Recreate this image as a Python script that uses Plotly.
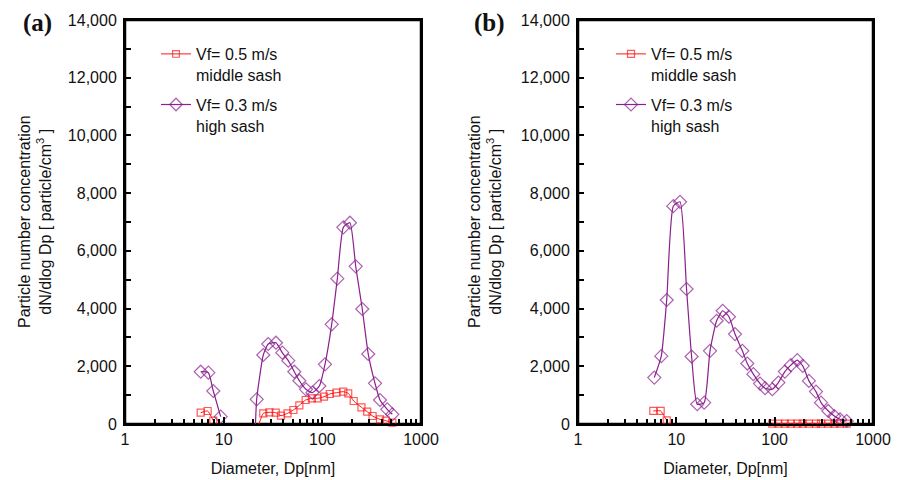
import plotly.graph_objects as go

# ---------------- data ----------------
# Panel (a)
a_red_x = [5.85, 6.88, 7.85, 15, 22.8, 25.2, 29.0, 33.7, 38.1, 44.4, 50.9, 58.5, 67.8, 78.3, 89.6,
           104, 119, 139, 163, 183, 208, 249, 285, 323, 384, 440, 512]
a_red_y = [392, 450, 115, None, 0, 370, 404, 392, 288, 370, 485, 647, 832, 890, 890,
           946, 1040, 1085, 1120, 1063, 797, 578, 427, 277, 162, 115, 45]

a_pur_x = [5.85, 7.0, 7.85, 9.33, 15, 21.0, 21.6, 25.2, 28.3, 33.9, 39.3, 45.2, 52.0, 58.5, 68.3, 79.2,
           93.3, 106.4, 124.4, 141.9, 163.3, 190.5, 217.9, 254, 292, 342, 384, 455, 512]
a_pur_y = [1812, 1778, 1143, 253, None, 0, 855, 2391, 2772, 2817, 2471, 2194, 1812, 1500, 1202, 1085,
           1317, 2068, 3454, 5035, 6815, 6975, 5464, 3985, 2425, 1410, 832, 509, 336]

# Panel (b)
b_red_x = [5.83, 6.93, 7.98, 40, 94.7, 109, 127, 146, 170, 193, 223, 263, 296, 351, 404, 462, 540]
b_red_y = [452, 452, 128, None, 10, 10, 10, 10, 10, 10, 10, 10, 10, 10, 10, 10, 10]

b_pur_x = [5.97, 7.03, 7.98, 9.31, 10.9, 12.7, 14.3, 16.3, 19.2, 22.0, 25.7, 29.6, 34.3, 39.5, 46.9,
           52.7, 60.7, 71.0, 79.8, 94.7, 109, 127, 146, 170, 193, 223, 263, 296, 351, 404, 462, 540]
b_pur_y = [1609, 2351, 4297, 7548, 7700, 4679, 2338, 684, 740, 2536, 3578, 3925, 3717, 3116, 2536,
           2095, 1726, 1400, 1240, 1205, 1435, 1817, 2039, 2213, 2015, 1494, 1122, 740, 452, 278, 163, 104]

series_names = ["Vf= 0.5 m/s<br>middle sash", "Vf= 0.3 m/s<br>high sash"]
panel_labels = ["(a)", "(b)"]
x_range = [1, 1000]
y_range = [0, 14000]
x_ticks = [1, 10, 100, 1000]
y_ticks = list(range(0, 14001, 2000))
x_title = "Diameter, Dp[nm]"
y_title = "Particle number concentration<br>dN/dlog Dp [ particle/cm<sup>3</sup> ]"

# ---------------- styling ----------------
RED = "#ff1414"
PURPLE = "#8a1f8e"
FONT = "Liberation Sans, Arial, sans-serif"
W, H = 904, 480


def marker_sizes(ys, size):
    # lead-in points (zero right after a gap) are drawn without a marker
    out = []
    for i, v in enumerate(ys):
        if v == 0 and (i == 0 or ys[i - 1] is None):
            out.append(0)
        else:
            out.append(size)
    return out


fig = go.Figure()

panels = [
    (a_red_x, a_red_y, a_pur_x, a_pur_y, "x", "y", "legend"),
    (b_red_x, b_red_y, b_pur_x, b_pur_y, "x2", "y2", "legend2"),
]
for rx, ry, px, py, xa, ya, lg in panels:
    # plot frame along the axis ranges
    fig.add_trace(go.Scatter(
        x=[x_range[0], x_range[1], x_range[1], x_range[0], x_range[0]],
        y=[y_range[0], y_range[0], y_range[1], y_range[1], y_range[0]],
        xaxis=xa, yaxis=ya, mode="lines", line=dict(color="#000000", width=2.5),
        showlegend=False, hoverinfo="skip", cliponaxis=False))
    fig.add_trace(go.Scatter(
        x=rx, y=ry, xaxis=xa, yaxis=ya, name=series_names[0], legend=lg,
        legendgroup="r", mode="lines+markers",
        line=dict(color=RED, width=1, shape="spline", smoothing=0.5),
        marker=dict(symbol="square-open", size=marker_sizes(ry, 7), color=RED, line=dict(width=1.2)),
        cliponaxis=False, connectgaps=False))
    fig.add_trace(go.Scatter(
        x=px, y=py, xaxis=xa, yaxis=ya, name=series_names[1], legend=lg,
        legendgroup="p", mode="lines+markers",
        line=dict(color=PURPLE, width=1.2, shape="spline", smoothing=0.5),
        marker=dict(symbol="diamond-open", size=marker_sizes(py, 10), color=PURPLE, line=dict(width=1.2)),
        cliponaxis=False, connectgaps=False))

minor_x = [m * 10 ** d for d in range(3) for m in range(2, 10)]

xa_common = dict(
    type="log", range=[0, 3], tickvals=x_ticks, ticktext=[str(v) for v in x_ticks],
    ticks="inside", ticklen=7, tickwidth=2, tickcolor="black", automargin=False,
    minor=dict(tickvals=minor_x, ticks="inside", ticklen=5, tickwidth=1.5, tickcolor="black", showgrid=False),
    showline=True, linewidth=2, linecolor="black", mirror=True, showgrid=False, zeroline=False,
    tickfont=dict(family=FONT, size=16, color="#111"),
    title=dict(text=x_title, font=dict(family=FONT, size=16, color="#111"), standoff=16),
)
ya_common = dict(
    range=y_range, tickvals=y_ticks, tickformat=",d", automargin=False,
    ticks="inside", ticklen=6, tickwidth=2, tickcolor="black",
    minor=dict(dtick=1000, ticks="inside", ticklen=6, tickwidth=1.5, tickcolor="black", showgrid=False),
    showline=True, linewidth=2, linecolor="black", mirror=True, showgrid=False, zeroline=False,
    tickfont=dict(family=FONT, size=16, color="#111"), ticklabelstandoff=3,
)

ax_left = [125 / W, 421 / W]
bx_left = [578 / W, 873 / W]
y_dom = [1 - 424 / H, 1 - 20 / H]

fig.update_layout(
    width=W, height=H, margin=dict(l=0, r=0, t=0, b=0, autoexpand=False),
    paper_bgcolor="white", plot_bgcolor="white",
    xaxis=dict(domain=ax_left, anchor="y", **xa_common),
    yaxis=dict(domain=y_dom, anchor="x", **ya_common),
    xaxis2=dict(domain=bx_left, anchor="y2", **xa_common),
    yaxis2=dict(domain=y_dom, anchor="x2", **ya_common),
    legend=dict(x=(156) / W, y=1 - 37 / H, xanchor="left", yanchor="top",
                bgcolor="rgba(0,0,0,0)", font=dict(family=FONT, size=16, color="#111"),
                valign="top", traceorder="grouped", tracegroupgap=6),
    legend2=dict(x=(611) / W, y=1 - 37 / H, xanchor="left", yanchor="top",
                 bgcolor="rgba(0,0,0,0)", font=dict(family=FONT, size=16, color="#111"),
                 valign="top", traceorder="grouped", tracegroupgap=6),
    showlegend=True,
)

# y-axis titles and panel labels
for cx, lbl, lx in [(35 / W, panel_labels[0], 37 / W), (485 / W, panel_labels[1], 489 / W)]:
    fig.add_annotation(x=cx, y=(1 - 222 / H), xref="paper", yref="paper", text=y_title,
                       textangle=-90, showarrow=False, xanchor="center", yanchor="middle",
                       font=dict(family=FONT, size=16, color="#111"))
    fig.add_annotation(x=lx, y=1 - 23 / H, xref="paper", yref="paper", text="<b>" + lbl + "</b>",
                       showarrow=False, xanchor="center", yanchor="middle",
                       font=dict(family="Liberation Serif, Times New Roman, serif", size=25, color="#111"))

fig.write_html("out.html")
